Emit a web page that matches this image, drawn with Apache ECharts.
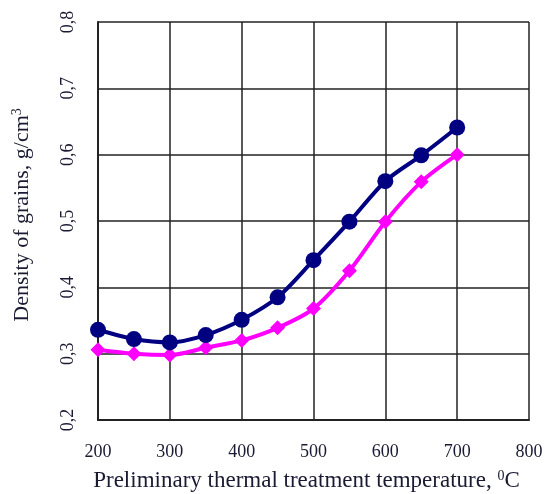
<!DOCTYPE html>
<html>
<head>
<meta charset="utf-8">
<script src="https://cdn.jsdelivr.net/npm/echarts@6/dist/echarts.min.js"></script>
<style>html,body{margin:0;padding:0;background:#fff;}#c{width:551px;height:494px;}</style>
</head>
<body>
<div id="c"></div>
<script>
const temperatures = [200, 250, 300, 350, 400, 450, 500, 550, 600, 650, 700];
const densityNavy = [0.336, 0.322, 0.317, 0.328, 0.351, 0.385, 0.441, 0.499, 0.560, 0.599, 0.641];
const densityMagenta = [0.306, 0.300, 0.298, 0.309, 0.320, 0.339, 0.368, 0.425, 0.499, 0.559, 0.600];
const xTicks = [200, 300, 400, 500, 600, 700, 800];
const yTicks = [0.2, 0.3, 0.4, 0.5, 0.6, 0.7, 0.8];

const pair = (ys) => temperatures.map((t, i) => [t, ys[i]]);
const txt = '#1a1a33';
const font = '"Liberation Serif", "Times New Roman", serif';

const chart = echarts.init(document.getElementById('c'));
chart.setOption({
  animation: false,
  backgroundColor: '#fff',
  grid: { left: 98, right: 22, top: 22, bottom: 74, containLabel: false, outerBoundsMode: 'none' },
  xAxis: {
    type: 'value',
    min: xTicks[0], max: xTicks[xTicks.length - 1], interval: 100,
    name: '{a|Preliminary thermal treatment temperature, }{s|0}{a|C}',
    nameLocation: 'middle', nameGap: 49,
    nameTextStyle: {
      padding: [0, 14, 0, 0],
      rich: {
        a: { fontFamily: font, fontSize: 23, color: txt },
        s: { fontFamily: font, fontSize: 14, color: txt, verticalAlign: 'top', padding: [0, 0, 10, 0] }
      }
    },
    axisLine: { show: true, lineStyle: { color: '#222', width: 2 } },
    axisTick: { show: false },
    axisLabel: { fontFamily: font, fontSize: 18, color: txt, margin: 23 },
    splitLine: { show: true, lineStyle: { color: '#222', width: 1.5 } }
  },
  yAxis: {
    type: 'value',
    min: yTicks[0], max: yTicks[yTicks.length - 1], interval: 0.1,
    name: '{a|Density of grains, g/cm}{s|3}',
    nameLocation: 'middle', nameGap: 64, nameRotate: 90,
    nameTextStyle: {
      padding: [0, 0, 0, 12],
      rich: {
        a: { fontFamily: font, fontSize: 22, color: txt },
        s: { fontFamily: font, fontSize: 14, color: txt, verticalAlign: 'top', padding: [0, 0, 10, 0] }
      }
    },
    axisLine: { show: true, lineStyle: { color: '#222', width: 2 } },
    axisTick: { show: false },
    axisLabel: {
      fontFamily: font, fontSize: 18, color: txt, rotate: 90, margin: 21,
      formatter: (v) => v.toFixed(1).replace('.', ',')
    },
    splitLine: { show: true, lineStyle: { color: '#222', width: 1.5 } }
  },
  series: [
    {
      type: 'line', smooth: 0.3, data: pair(densityMagenta),
      symbol: 'diamond', symbolSize: 15,
      lineStyle: { color: '#ff00ff', width: 4 },
      itemStyle: { color: '#ff00ff' }
    },
    {
      type: 'line', smooth: 0.3, data: pair(densityNavy),
      symbol: 'circle', symbolSize: 16,
      lineStyle: { color: '#000080', width: 4 },
      itemStyle: { color: '#000080' }
    }
  ]
});
</script>
</body>
</html>
